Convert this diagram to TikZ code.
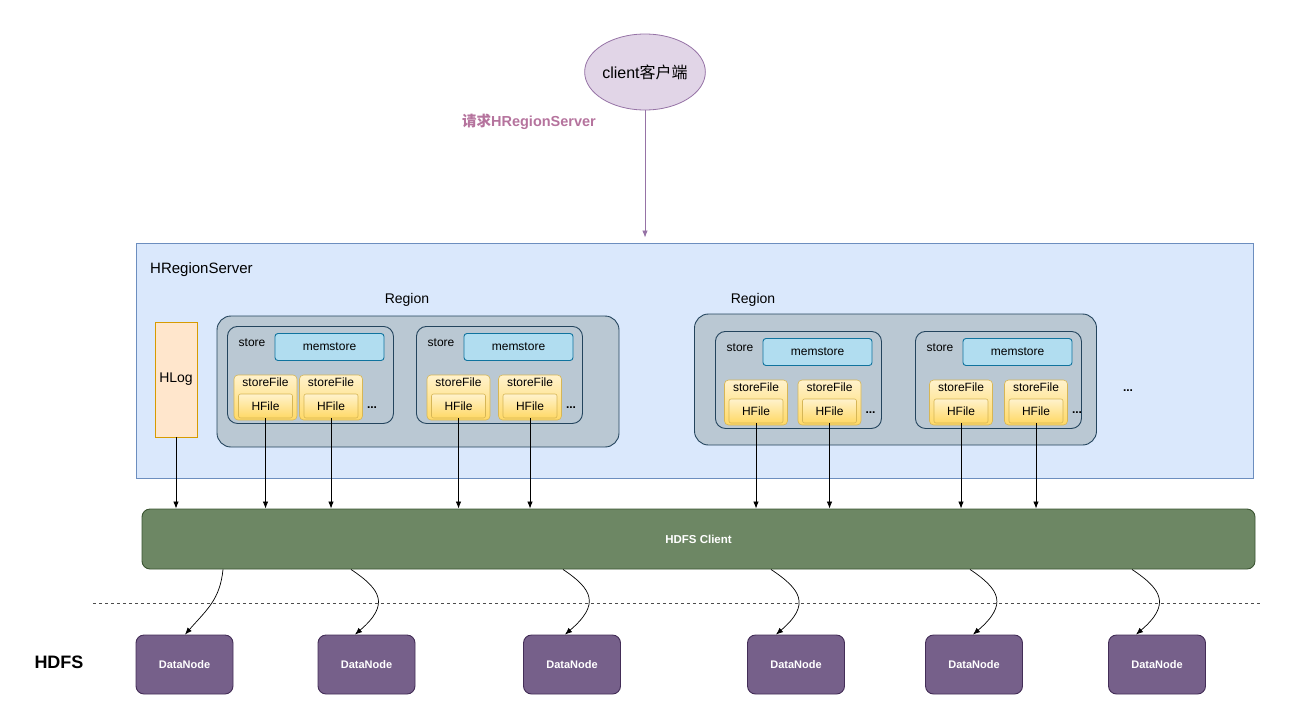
\documentclass[tikz,border=0pt]{standalone}
\usepackage{fontspec}
\setmainfont{Liberation Sans}
\newfontfamily\cjk{Noto Sans CJK SC}
\usepackage{xcolor}
\definecolor{SERVERCOLOR}{HTML}{DAE8FC}
\definecolor{SERVERLINE}{HTML}{6C8EBF}
\definecolor{REGIONCOLOR}{HTML}{BAC8D3}
\definecolor{REGIONLINE}{HTML}{23445D}
\definecolor{MEMCOLOR}{HTML}{B1DDF0}
\definecolor{MEMLINE}{HTML}{10739E}
\definecolor{FILETOP}{HTML}{FFF2CC}
\definecolor{FILEBOTTOM}{HTML}{FFD966}
\definecolor{FILELINE}{HTML}{D6B656}
\definecolor{LOGCOLOR}{HTML}{FFE6CC}
\definecolor{LOGLINE}{HTML}{D79B00}
\definecolor{CLIENTCOLOR}{HTML}{E1D5E7}
\definecolor{CLIENTLINE}{HTML}{9673A6}
\definecolor{HDFSCOLOR}{HTML}{6D8764}
\definecolor{HDFSLINE}{HTML}{3A5431}
\definecolor{DATACOLOR}{HTML}{76608A}
\definecolor{DATALINE}{HTML}{432D57}
\definecolor{REQUESTCOLOR}{HTML}{B5739D}
\usepackage{tikz}
\usetikzlibrary{shapes.geometric,arrows.meta,positioning,calc}
\newcommand\fsize[1]{\fontsize{#1}{#1}\selectfont}
\tikzset{
  basic-style/.style = {
    rectangle, draw=#1LINE, fill=#1COLOR,
    line width=0.9pt,
    inner sep=0pt
  },
  server-style/.style = {
    basic-style=SERVER
  },
  region-style/.style = {
    basic-style=REGION, rounded corners=14pt,
    minimum width=402pt, minimum height=131pt
  },
  store-style/.style = {
    basic-style=REGION, rounded corners=10pt, anchor=north west,
    minimum width=166pt, minimum height=97pt
  },
  mem-style/.style = {
    basic-style=MEM, rounded corners=3pt,
    minimum width=109pt, minimum height=27pt,
    font=\fsize{12}
  },
  file-style/.style = {
    rectangle, draw=FILELINE, top color=FILETOP, bottom color=FILEBOTTOM,
    rounded corners=4pt, line width=0.6pt, inner sep=0pt,
    minimum width=63pt, minimum height=45pt
  },
  hfile-style/.style = {
    file-style, rounded corners=2pt,
    minimum width=54pt, minimum height=24pt,
    font=\fsize{12}
  },
  log-style/.style = {
    basic-style=LOG,
    minimum width=42pt, minimum height=115pt,
    font=\fsize{14}
  },
  hdfs-style/.style = {
    basic-style=HDFS, rounded corners=8pt,
    text=white, font=\bfseries\fsize{11.5}
  },
  data-style/.style = {
    basic-style=DATA, rounded corners=8pt,
    minimum width=97pt, minimum height=59pt,
    text=white, font=\bfseries\fsize{11}
  },
  client-style/.style = {
    ellipse, draw=CLIENTLINE, fill=CLIENTCOLOR, line width=0.8pt,
    minimum width=120pt, minimum height=76pt, inner sep=0pt,
    font=\fsize{16}
  },
  text-style/.style = {
    inner sep=0pt, font=\fsize{#1}
  },
  text-style/.default = 12,
  dots-style/.style = {
    inner sep=0pt, font=\bfseries\fsize{12}
  },
  >={Latex[length=7pt,width=5.5pt]},
  every edge/.style = {draw, ->, line width=0.8pt}
}
% name, top left x, top left y, centre x of the two store files
\newcommand\createStore[5]{
  \begin{scope}[shift={(#2,#3)}]
    \node[store-style] (store#1) at (0,0) {};
    \node[text-style] at (25,17) {store};
    \node[mem-style] (mem#1) at (102.5,21) {memstore};
    \node[file-style] (file#1a) at (#4,71.5) {};
    \node[file-style] (file#1b) at (#5,71.5) {};
    \node[dots-style] at ($(file#1b.center)+(41,10)$) {...};
  \end{scope}
  \foreach \f in {a,b}{
    \node[text-style, below=3pt of file#1\f.north] {storeFile};
    \node[hfile-style, above=2pt of file#1\f.south] (hfile#1\f) {HFile};
  }
}

\begin{document}
\begin{tikzpicture}[x=1pt,y=-1pt]
    \useasboundingbox (0,0) rectangle (1290,726);

    %%% client
    \node[client-style] (client) at (645,72) {client{\cjk 客户端}};
    \node[text-style=14.5, font=\bfseries\fsize{14.5}, text=REQUESTCOLOR] (request) at (529,122) {{\cjk 请求}HRegionServer};

    %%% region server
    \node[server-style, minimum width=1117pt, minimum height=235pt] (server) at (694.5,360.5) {};
    \node[text-style=15, anchor=west] (serverName) at (150,270) {HRegionServer};
    \node[log-style] (hlog) at (176,379.5) {HLog};

    \node[region-style] (region1) at (418,381.5) {};
    \node[region-style] (region2) at (895.5,379.5) {};
    \node[text-style=14] (regionName1) at (407,300) {Region};
    \node[text-style=14] (regionName2) at (753,300) {Region};

    \createStore{A}{227}{326}{38.5}{104}
    \createStore{B}{416}{326}{42.5}{114}
    \createStore{C}{715}{331}{41}{114.5}
    \createStore{D}{915}{331}{46}{121}
    \node[dots-style] (moreRegions) at (1128,391) {...};

    %%% hdfs
    \node[hdfs-style, minimum width=1113pt, minimum height=60pt] (hdfs) at (698.5,539) {HDFS Client};
    \draw[dashed, dash pattern=on 3pt off 3pt, line width=0.8pt, black!70] (93,603) -- (1260,603);
    \node[text-style=18, font=\bfseries\fsize{18}] (hdfsName) at (59,662) {HDFS};
    \foreach \n/\x in {1/184.5,2/366.5,3/572,4/796,5/974,6/1157}
      \node[data-style] (dn\n) at (\x,664.5) {DataNode};

    %%% arrows
    \path (client.south) edge[CLIENTLINE, shorten >=5pt] (client.south |- server.north);
    \path (hlog.south) edge (hlog.south |- hdfs.north);
    \foreach \s in {A,B,C,D}
      \foreach \f in {a,b}
        \path (hfile\s\f.south) edge (hfile\s\f.south |- hdfs.north);
    \draw[->, line width=0.7pt] ([xshift=38.5pt]dn1.north |- hdfs.south)
      .. controls +(-3,30) and +(22,-25) .. ([xshift=0.5pt]dn1.north);
    \foreach \n/\s/\e in {2/-15.5/-11.5,3/-9/-7,4/-25/-20,5/-4/-1,6/-25/-21}
      \draw[->, line width=0.7pt] ([xshift=\s pt]dn\n.north |- hdfs.south)
        .. controls +(30,20) and +(35,-30) .. ([xshift=\e pt]dn\n.north);
\end{tikzpicture}
\end{document}
